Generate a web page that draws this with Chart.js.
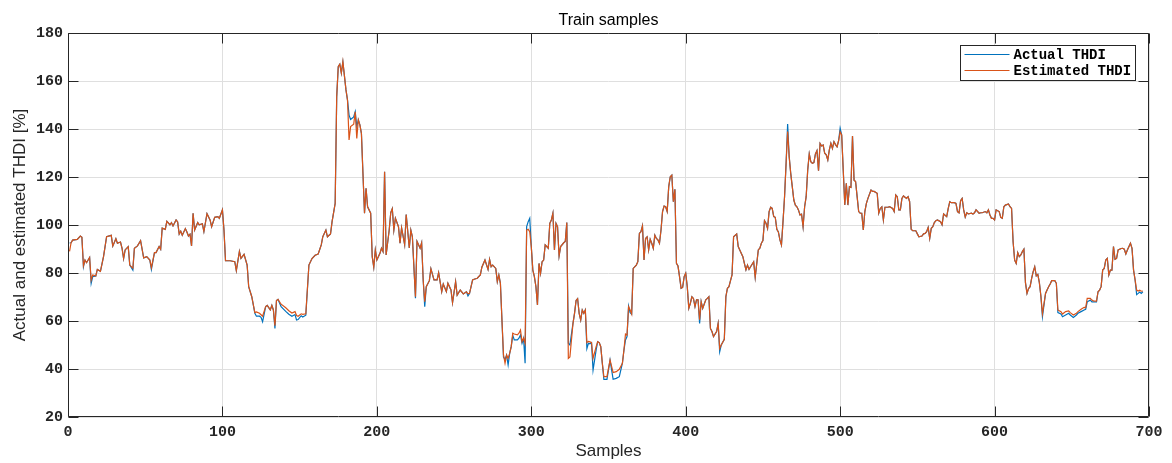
<!DOCTYPE html>
<html>
<head>
<meta charset="utf-8">
<title>Train samples</title>
<script src="https://cdn.jsdelivr.net/npm/chart.js@4.4.0/dist/chart.umd.min.js"></script>
<style>
    html, body { margin: 0; padding: 0; background: #fff; }
    #wrap { width: 1172px; height: 463px; }
</style>
</head>
<body>
<div id="wrap"><canvas id="thdiChart" width="1172" height="463"></canvas></div>
<script>
// ==================== DATA ====================

const samples = [
    1,2,3,6,8,9,10,11,12,14,15,16,18,19,21,
    23,25,28,29,31,32,34,35,36,37,39,40,42,43,45,
    47,48,49,51,53,54,56,57,59,60,61,63,64,66,67,
    68,70,71,72,73,74,76,77,78,79,80,81,82,84,85,
    87,88,90,92,93,95,97,98,100,101,102,105,108,109,111,
    112,114,116,117,119,121,122,124,125,126,128,129,131,132,133,
    134,135,136,138,141,143,145,147,148,149,151,152,154,156,158,
    160,162,164,165,167,168,170,171,173,174,175,176,177,178,180,
    181,182,183,185,186,187,188,189,190,191,192,193,194,196,197,
    198,199,200,202,203,204,205,206,208,209,210,211,212,214,215,
    216,218,219,221,222,223,225,226,228,229,230,231,232,234,235,
    237,239,240,242,243,245,246,248,249,251,252,254,256,258,259,
    260,262,263,265,267,268,270,272,273,274,275,277,278,279,280,
    281,282,283,284,285,286,287,288,289,291,292,293,294,295,296,
    297,298,299,300,301,302,303,304,305,306,307,308,309,311,312,
    313,314,315,316,317,318,319,321,322,323,324,325,327,328,329,
    330,331,332,333,334,335,336,337,338,339,340,342,343,344,345,
    346,347,349,351,353,355,357,359,360,361,362,363,364,365,366,
    368,369,370,371,372,373,374,375,376,377,378,379,380,381,382,
    383,384,385,386,387,388,389,390,391,392,393,394,395,396,397,
    398,399,400,401,402,403,404,405,406,407,408,409,410,411,413,
    414,415,416,417,418,420,421,422,423,425,426,427,428,429,430,
    431,433,434,435,437,438,439,440,441,442,444,445,447,448,449,
    450,451,452,453,454,455,456,457,458,459,460,461,462,463,464,
    465,466,467,468,469,470,471,472,473,474,475,476,477,478,479,
    480,481,482,483,484,485,486,487,488,489,490,491,492,493,494,
    495,496,497,498,499,500,501,502,503,504,505,506,507,508,509,
    510,511,512,513,514,515,516,517,518,520,521,522,524,525,526,
    527,528,529,531,532,534,535,536,537,538,539,540,541,543,544,
    545,546,547,549,550,551,553,554,555,556,557,558,559,560,561,
    562,563,565,566,567,569,570,571,572,574,575,576,577,578,579,
    580,581,582,583,585,586,587,588,590,591,592,594,595,596,597,
    598,599,600,601,603,604,605,606,607,609,610,611,612,613,614,
    615,616,617,618,619,620,621,622,623,624,625,626,627,628,629,
    630,631,633,634,635,636,637,639,640,641,643,644,646,648,649,
    651,653,654,656,658,659,660,662,663,664,666,667,668,669,670,
    671,672,673,674,675,676,677,678,679,680,682,683,684,685,686,
    688,689,690,691,692,693,694,695,696
];

const actualThdi = [
    92.5,92.6,93.7,94.0,95.4,94.9,82.6,85.4,84.3,86.5,75.7,78.5,78.8,81.5,80.7,
    86.8,95.1,95.7,91.2,94.3,92.4,92.9,90.3,86.0,89.6,91.0,83.3,81.2,90.3,91.3,
    93.5,89.9,86.3,86.8,85.4,81.5,88.5,88.5,91.0,89.9,98.7,98.2,101.5,100.1,101.0,
    99.6,102.1,101.3,96.2,97.4,95.7,98.5,97.1,95.4,96.2,91.3,104.9,97.9,101.0,100.1,
    100.5,97.3,104.7,102.1,99.3,103.2,103.5,102.8,106.3,97.9,85.1,85.1,84.7,81.0,89.0,
    86.1,87.8,83.3,74.3,70.1,63.2,62.0,62.0,61.5,59.7,66.0,66.5,64.6,66.5,64.6,
    56.9,68.5,69.0,66.0,64.0,62.8,62.0,62.7,60.4,60.6,62.2,61.7,62.4,83.3,86.0,
    87.4,87.9,91.7,95.1,97.9,95.1,96.3,101.4,109.0,153.5,166.0,167.0,163.3,167.9,156.3,
    152.0,145.8,144.0,145.0,147.2,141.0,143.8,141.7,138.2,121.5,104.9,115.3,107.6,104.9,86.8,
    82.4,89.6,85.4,88.2,90.3,88.9,122.2,87.5,97.9,105.1,106.8,97.9,102.8,99.3,92.4,
    98.8,91.8,104.4,90.4,97.9,95.1,69.5,93.2,90.3,92.6,77.1,66.0,74.3,76.8,81.8,
    77.1,77.1,80.1,72.2,75.4,72.2,75.7,72.9,67.6,76.4,70.8,72.9,71.3,72.2,70.5,
    71.5,77.1,77.4,77.8,79.2,82.4,85.4,81.5,85.7,82.6,83.3,81.9,76.4,79.2,75.7,
    60.4,45.0,44.0,45.8,41.7,46.5,49.3,54.0,52.1,52.1,52.8,54.2,50.7,52.8,42.4,
    99.3,101.4,102.8,91.0,81.2,78.5,74.3,66.7,84.0,79.9,84.7,85.4,91.7,90.3,100.7,
    102.1,104.9,89.6,100.7,99.3,87.1,91.0,92.6,93.1,101.0,50.7,50.0,59.0,63.2,68.5,
    69.3,63.2,60.4,64.6,63.2,64.6,48.5,50.7,50.5,51.0,39.6,48.0,51.4,51.0,49.3,
    42.4,35.7,35.7,43.7,35.7,36.1,36.8,42.4,47.9,52.1,53.5,66.2,63.5,62.9,81.9,
    83.3,84.7,96.5,97.2,99.6,85.4,94.4,95.1,89.6,94.0,92.4,90.3,95.8,94.4,93.8,
    92.4,97.9,105.6,107.9,107.6,105.6,116.0,120.1,120.8,109.7,114.9,84.0,82.9,78.5,73.6,
    74.0,78.5,79.9,74.3,65.3,67.4,70.1,69.4,66.0,68.8,68.8,59.0,68.1,65.3,68.8,
    69.4,70.1,56.9,55.6,53.5,55.6,59.0,47.2,50.0,52.4,70.1,73.6,74.3,76.8,79.2,
    95.1,96.3,91.0,89.6,86.8,84.0,81.3,83.3,81.5,82.6,84.7,78.2,89.6,90.3,92.4,
    93.5,101.8,100.7,98.6,105.6,107.4,106.9,103.5,103.2,98.2,97.1,93.8,91.7,101.4,111.8,
    125.7,142.1,128.5,121.5,116.0,110.4,108.3,107.6,106.3,104.2,104.5,99.3,107.6,111.8,122.9,
    129.6,126.4,125.7,126.0,129.6,131.0,122.6,134.0,132.9,133.3,129.9,129.2,127.1,131.3,134.0,
    131.9,134.7,133.5,132.6,135.1,140.3,137.5,122.9,108.3,117.4,108.3,116.0,115.7,137.1,118.7,
    118.1,111.8,105.6,104.9,104.9,97.9,105.6,109.0,111.1,114.6,114.0,114.0,113.2,104.9,106.9,
    107.6,102.1,107.4,107.4,107.6,106.9,105.6,112.5,111.8,106.3,106.3,111.1,112.1,111.1,111.8,
    109.7,98.2,97.6,97.6,96.3,95.1,95.4,96.3,96.5,97.2,99.0,94.4,98.6,99.3,101.0,
    101.8,102.1,101.4,100.1,104.6,103.5,106.9,109.7,109.3,109.3,109.0,105.6,105.1,110.1,111.1,
    106.3,103.3,105.1,104.6,104.9,104.6,105.1,106.3,104.9,105.1,105.1,105.6,105.1,106.3,104.2,
    102.8,102.8,102.1,106.3,105.6,103.2,102.8,107.6,108.3,108.8,107.6,106.9,93.0,85.4,84.0,
    88.5,86.8,87.5,88.9,89.9,76.0,71.5,73.5,74.3,77.8,80.6,82.6,78.8,79.4,76.0,
    70.3,61.8,71.5,72.9,74.3,75.4,76.8,76.8,75.7,63.5,62.9,61.8,62.5,63.2,62.5,
    61.5,62.5,63.2,63.9,64.6,64.9,68.0,68.7,68.0,68.0,68.0,72.2,72.9,74.3,81.2,
    81.9,85.4,86.1,79.2,81.2,81.2,91.0,85.7,86.1,89.6,90.2,90.3,89.9,87.9,89.6,
    92.4,90.3,81.2,77.1,71.0,71.5,72.1,71.5,72.2
];

const estimatedThdi = [
    89.0,92.6,93.7,94.0,95.4,94.9,83.0,85.4,84.3,86.5,77.0,79.2,78.8,81.5,80.7,
    86.8,95.1,95.7,91.2,94.3,92.4,92.9,90.3,86.0,89.6,91.0,83.3,82.0,90.3,91.3,
    93.5,89.9,86.3,86.8,85.4,82.2,88.5,88.5,91.0,89.9,98.7,98.2,101.5,100.1,101.0,
    99.6,102.1,101.3,96.2,97.4,95.7,98.5,97.1,95.4,96.2,91.3,104.9,97.9,101.0,100.1,
    100.5,97.3,104.7,102.1,99.3,103.2,103.5,102.8,106.3,97.9,85.1,85.1,84.7,81.0,89.0,
    86.1,87.8,83.3,74.3,70.1,63.5,63.8,63.2,62.6,62.0,66.0,66.5,64.6,66.5,64.6,
    58.0,68.5,69.0,67.0,65.5,64.3,63.3,63.9,62.3,62.0,63.0,62.8,63.0,83.3,86.0,
    87.4,87.9,91.7,95.1,97.9,95.1,96.3,101.4,109.0,153.5,166.0,167.0,163.3,168.1,156.3,
    152.0,135.4,141.0,142.0,147.2,136.1,143.8,141.7,138.2,121.5,104.9,115.3,107.6,104.9,86.8,
    82.4,89.6,85.4,88.2,90.3,88.9,122.2,87.5,97.9,105.1,106.8,97.9,102.8,99.3,92.4,
    98.8,91.8,104.4,90.4,97.9,95.1,70.1,93.2,90.3,92.6,77.1,68.0,74.3,76.8,81.8,
    77.1,77.1,80.1,72.2,75.4,72.2,75.7,72.9,67.6,76.4,70.8,72.9,71.3,72.2,71.3,
    71.5,77.1,77.4,77.8,79.2,82.4,85.4,81.5,85.7,82.6,83.3,81.9,76.4,79.2,75.7,
    60.4,46.0,42.4,45.8,44.4,46.5,49.3,54.9,54.6,54.2,54.9,56.2,51.4,52.8,50.7,
    97.9,98.2,97.2,91.0,81.2,78.5,74.3,66.7,84.0,79.9,84.7,85.4,91.7,90.3,100.7,
    102.1,104.9,89.6,100.7,99.3,87.1,91.0,92.6,93.1,101.0,44.4,45.0,59.0,63.2,68.5,
    69.3,63.2,60.4,64.6,63.2,64.6,51.0,51.5,51.3,51.0,44.4,49.3,51.4,51.0,49.3,
    42.4,36.8,36.8,43.7,38.5,38.9,39.9,42.4,47.9,54.6,54.2,66.0,64.6,62.9,81.9,
    83.3,84.7,96.5,97.2,99.6,85.4,94.4,95.1,89.6,94.0,92.4,90.3,95.8,94.4,93.8,
    92.4,97.9,105.6,107.9,107.6,105.6,116.0,120.1,120.8,109.7,114.9,84.0,82.9,78.5,73.6,
    74.0,78.5,79.9,74.3,65.3,67.4,70.1,69.4,66.0,68.8,68.8,60.5,68.1,65.3,68.8,
    69.4,70.1,56.9,55.6,53.5,55.6,59.0,48.6,50.0,52.4,70.1,73.6,74.3,76.8,79.2,
    95.1,96.3,91.0,89.6,86.8,84.0,81.3,83.3,81.5,82.6,84.7,78.2,89.6,90.3,92.4,
    93.5,101.8,100.7,98.6,105.6,107.4,106.9,103.5,103.2,98.2,97.1,93.8,91.7,101.4,111.8,
    125.7,138.9,128.5,121.5,116.0,110.4,108.3,107.6,106.3,104.2,104.5,99.3,107.6,111.8,122.9,
    129.6,126.4,125.7,126.0,129.6,131.0,122.6,134.0,132.9,133.3,129.9,129.2,127.1,131.3,134.0,
    131.9,134.7,133.5,132.6,135.1,138.8,137.5,122.9,108.3,117.4,108.3,116.0,115.7,137.1,118.7,
    118.1,111.8,105.6,104.9,104.9,97.9,105.6,109.0,111.1,114.6,114.0,114.0,113.2,104.9,106.9,
    107.6,102.1,107.4,107.4,107.6,106.9,105.6,112.5,111.8,106.3,106.3,111.1,112.1,111.1,111.8,
    109.7,98.2,97.6,97.6,96.3,95.1,95.4,96.3,96.5,97.2,99.0,94.4,98.6,99.3,101.0,
    101.8,102.1,101.4,100.1,104.6,103.5,106.9,109.7,109.3,109.3,109.0,105.6,105.1,110.1,111.1,
    106.3,103.3,105.1,104.6,104.9,104.6,105.1,106.3,104.9,105.1,105.1,105.6,105.1,106.3,104.2,
    102.8,102.8,102.1,106.3,105.6,103.2,102.8,107.6,108.3,108.8,107.6,106.9,93.0,85.4,84.0,
    88.5,86.8,87.5,88.9,89.9,76.0,71.5,73.5,74.3,77.8,80.6,82.6,78.8,79.4,76.0,
    70.3,63.0,71.5,72.9,74.3,75.4,76.8,76.8,75.7,64.6,63.9,62.9,63.9,64.2,63.5,
    62.5,63.2,63.9,64.9,65.7,65.6,69.4,69.4,68.7,68.4,68.3,72.2,72.9,74.3,81.2,
    81.9,85.4,86.1,79.2,81.2,81.2,91.0,85.7,86.1,89.6,90.2,90.3,89.9,87.9,89.6,
    92.4,90.3,81.2,77.1,72.9,72.5,72.8,72.4,72.5
];

const xTicks = [0, 100, 200, 300, 400, 500, 600, 700];
const yTicks = [20, 40, 60, 80, 100, 120, 140, 160, 180];

const seriesNames = ['Actual THDI', 'Estimated THDI'];
const seriesColors = ['#0072BD', '#D95319'];

// ==================== STYLE ====================

const AXIS_COLOR = '#262626';
const GRID_COLOR = '#dfdfdf';
const SANS = "'Liberation Sans', Arial, Helvetica, sans-serif";
const MONO = "'Liberation Mono', 'Courier New', monospace";
const TICK_LEN = 10;

function toPoints(values) {
    return samples.map((s, i) => ({ x: s, y: values[i] }));
}

// box, inward ticks, title and legend drawn on top of the lines
const axesFrame = {
    id: 'axesFrame',
    afterDatasetsDraw(chart) {
        const { ctx, chartArea: a, scales } = chart;
        const L = Math.round(a.left) + 0.5;
        const R = Math.round(a.right) - 0.5;
        const T = Math.round(a.top) + 0.5;
        const B = Math.round(a.bottom) - 0.5;

        ctx.save();
        ctx.strokeStyle = AXIS_COLOR;
        ctx.lineWidth = 1;
        ctx.beginPath();
        ctx.rect(L, T, R - L, B - T);

        xTicks.forEach(v => {
            const px = Math.round(scales.x.getPixelForValue(v)) + 0.5;
            ctx.moveTo(px, B); ctx.lineTo(px, B - TICK_LEN);
            ctx.moveTo(px, T); ctx.lineTo(px, T + TICK_LEN);
        });
        yTicks.forEach(v => {
            const py = Math.round(scales.y.getPixelForValue(v)) + 0.5;
            ctx.moveTo(L, py); ctx.lineTo(L + TICK_LEN, py);
            ctx.moveTo(R, py); ctx.lineTo(R - TICK_LEN, py);
        });
        ctx.stroke();

        // title centred over the axes
        ctx.fillStyle = '#000';
        ctx.font = '16px ' + SANS;
        ctx.textAlign = 'center';
        ctx.textBaseline = 'alphabetic';
        ctx.fillText('Train samples', (a.left + a.right) / 2, a.top - 8);

        // legend box in the upper right corner
        const boxR = Math.round(a.right) - 13.5;
        const boxL = boxR - 175;
        const boxT = Math.round(a.top) + 12.5;
        const boxB = boxT + 35;
        ctx.fillStyle = '#fff';
        ctx.fillRect(boxL, boxT, boxR - boxL, boxB - boxT);
        ctx.strokeStyle = AXIS_COLOR;
        ctx.strokeRect(boxL, boxT, boxR - boxL, boxB - boxT);

        ctx.font = 'bold 14px ' + MONO;
        ctx.textAlign = 'left';
        ctx.textBaseline = 'middle';
        seriesNames.forEach((name, i) => {
            const ly = boxT + 9 + i * 16;
            ctx.strokeStyle = seriesColors[i];
            ctx.beginPath();
            ctx.moveTo(boxL + 4, ly);
            ctx.lineTo(boxL + 49, ly);
            ctx.stroke();
            ctx.fillStyle = '#000';
            ctx.fillText(name, boxL + 53, ly + 1);
        });
        ctx.restore();
    }
};

const ctx = document.getElementById('thdiChart');

new Chart(ctx, {
    type: 'line',
    data: {
        datasets: [{
            label: seriesNames[0],
            data: toPoints(actualThdi),
            borderColor: seriesColors[0],
            borderWidth: 1.2,
            pointRadius: 0,
            tension: 0,
            order: 1
        }, {
            label: seriesNames[1],
            data: toPoints(estimatedThdi),
            borderColor: seriesColors[1],
            borderWidth: 1.2,
            pointRadius: 0,
            tension: 0,
            order: 0
        }]
    },
    options: {
        responsive: false,
        animation: false,
        devicePixelRatio: 1,
        layout: {
            padding: { top: 33, right: 23, bottom: 0, left: 0 }
        },
        plugins: {
            legend: { display: false },
            title: { display: false },
            tooltip: { enabled: false }
        },
        scales: {
            x: {
                type: 'linear',
                min: 0,
                max: 700,
                afterBuildTicks: scale => { scale.ticks = xTicks.map(v => ({ value: v })); },
                afterFit: scale => { scale.height = 46; },
                grid: { color: GRID_COLOR, drawTicks: false },
                border: { display: false },
                ticks: {
                    padding: 6,
                    color: AXIS_COLOR,
                    maxRotation: 0,
                    font: { family: MONO, size: 15, weight: 'bold' }
                },
                title: {
                    display: true,
                    text: 'Samples',
                    color: AXIS_COLOR,
                    font: { family: SANS, size: 17 },
                    padding: { top: 0, bottom: 1 }
                }
            },
            y: {
                min: 20,
                max: 180,
                afterBuildTicks: scale => { scale.ticks = yTicks.map(v => ({ value: v })); },
                afterFit: scale => { scale.width = 68; },
                grid: { color: GRID_COLOR, drawTicks: false },
                border: { display: false },
                ticks: {
                    padding: 5,
                    color: AXIS_COLOR,
                    font: { family: MONO, size: 15, weight: 'bold' }
                },
                title: {
                    display: true,
                    text: 'Actual and estimated THDI [%]',
                    color: AXIS_COLOR,
                    font: { family: SANS, size: 17 },
                    padding: { top: 10, bottom: 0 }
                }
            }
        }
    },
    plugins: [axesFrame]
});
</script>
</body>
</html>
